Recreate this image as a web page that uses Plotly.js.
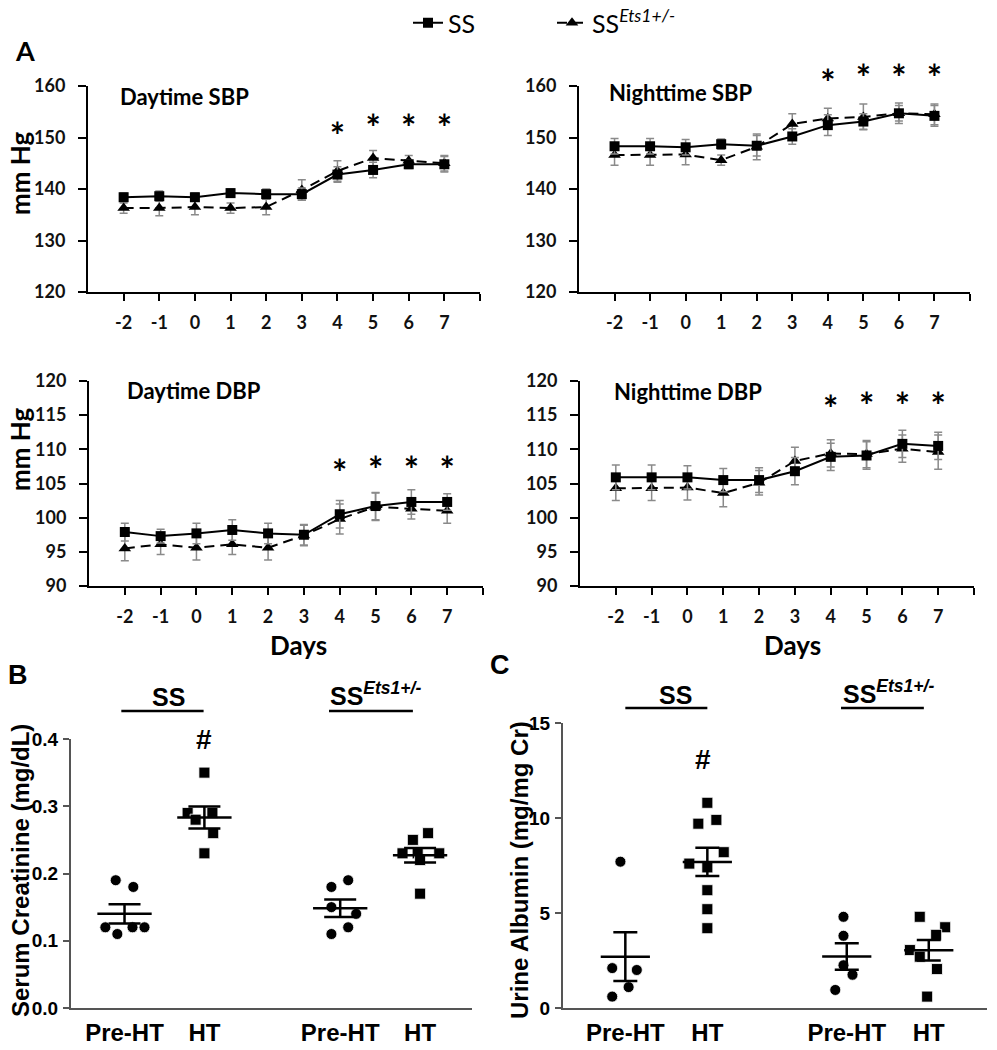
<!DOCTYPE html>
<html>
<head>
<meta charset="utf-8">
<script src="https://cdn.plot.ly/plotly-3.0.1.min.js"></script>
<style>body{margin:0;background:#fff}</style>
</head>
<body>
<div id="chart" style="width:997px;height:1050px"></div>
<script>
// ===== Panel A: blood pressure by day (mean +/- SEM) =====
var days = [-2, -1, 0, 1, 2, 3, 4, 5, 6, 7];
var dayLabels = ['-2', '-1', '0', '1', '2', '3', '4', '5', '6', '7'];
var starDays = [4, 5, 6, 7];

var daySbpSS = [138.4, 138.6, 138.4, 139.2, 139.0, 139.0, 142.8, 143.7, 144.8, 144.8];
var daySbpSSErr = [0.8, 1.0, 0.8, 0.8, 1.0, 1.2, 1.5, 1.5, 0.8, 1.5];
var daySbpEts = [136.3, 136.3, 136.5, 136.3, 136.5, 139.8, 143.5, 146.0, 145.5, 145.0];
var daySbpEtsErr = [1.0, 1.5, 1.5, 1.0, 1.5, 2.0, 2.0, 1.5, 1.0, 1.5];
var daySbpStars = [149.5, 151.1, 151.1, 151.1];

var nightSbpSS = [148.3, 148.3, 148.1, 148.7, 148.4, 150.2, 152.4, 153.1, 154.7, 154.2];
var nightSbpSSErr = [1.5, 1.5, 1.5, 1.0, 2.0, 1.5, 2.0, 1.5, 1.5, 2.0];
var nightSbpEts = [146.6, 146.6, 146.7, 145.6, 148.2, 152.6, 153.7, 154.0, 154.7, 154.5];
var nightSbpEtsErr = [2.0, 2.0, 2.0, 1.0, 2.5, 2.0, 2.0, 2.5, 2.0, 2.0];
var nightSbpStars = [159.8, 160.8, 160.8, 160.8];

var dayDbpSS = [97.9, 97.3, 97.7, 98.2, 97.7, 97.5, 100.5, 101.7, 102.3, 102.3];
var dayDbpSSErr = [1.3, 1.0, 1.5, 1.5, 1.5, 1.5, 2.0, 2.0, 1.8, 1.2];
var dayDbpEts = [95.5, 96.1, 95.6, 96.1, 95.6, 97.4, 99.8, 101.6, 101.3, 101.0];
var dayDbpEtsErr = [1.8, 1.5, 1.8, 1.5, 1.8, 1.5, 2.2, 2.0, 1.5, 1.8];
var dayDbpStars = [105.9, 106.4, 106.4, 106.4];

var nightDbpSS = [105.9, 105.9, 105.9, 105.5, 105.5, 106.8, 108.9, 109.1, 110.8, 110.5];
var nightDbpSSErr = [1.8, 1.8, 1.7, 1.7, 1.8, 2.0, 2.0, 2.0, 2.0, 2.0];
var nightDbpEts = [104.3, 104.3, 104.4, 103.6, 105.1, 108.3, 109.4, 109.3, 110.1, 109.6];
var nightDbpEtsErr = [1.8, 1.8, 1.8, 2.0, 1.8, 2.0, 2.0, 2.0, 2.0, 2.5];
var nightDbpStars = [115.3, 115.7, 115.7, 115.7];

// ===== Panels B & C: individual animals =====
var groupX = [1, 2, 3.7, 4.7];   // SS Pre-HT, SS HT, Ets Pre-HT, Ets HT
var groupLabels = ['Pre-HT', 'HT', 'Pre-HT', 'HT'];

var creatSSPre = [0.19, 0.18, 0.12, 0.11, 0.12, 0.12];
var creatSSPreJit = [-0.11, 0.11, -0.24, -0.09, 0.1, 0.25];
var creatSSHT = [0.35, 0.29, 0.29, 0.28, 0.26, 0.23];
var creatSSHTJit = [0, -0.21, 0.1, -0.11, 0.11, 0];
var creatEtsPre = [0.18, 0.19, 0.15, 0.14, 0.11, 0.12];
var creatEtsPreJit = [-0.11, 0.1, -0.11, 0.2, -0.11, 0.1];
var creatEtsHT = [0.25, 0.26, 0.23, 0.23, 0.23, 0.22, 0.17];
var creatEtsHTJit = [-0.09, 0.1, -0.22, -0.03, 0.24, 0, 0];

var albSSPre = [7.7, 2.1, 2.0, 1.1, 0.6];
var albSSPreJit = [-0.06, -0.16, 0.14, 0.04, -0.16];
var albSSHT = [10.8, 9.7, 9.9, 8.2, 7.6, 7.4, 6.2, 5.2, 4.2];
var albSSHTJit = [0, -0.11, 0.11, 0.2, -0.22, 0, 0, 0, 0];
var albEtsPre = [4.8, 3.8, 2.25, 1.75, 0.95];
var albEtsPreJit = [-0.04, -0.04, -0.04, 0.07, -0.14];
var albEtsHT = [4.8, 4.25, 3.85, 3.05, 2.7, 2.05, 0.6];
var albEtsHTJit = [-0.11, 0.2, 0.09, -0.23, -0.11, 0.1, -0.02];

var etsName = 'SS<sup><i>Ets1+/-</i></sup>';
var fontA = 'Lato, "Open Sans", sans-serif';
var fontB = '"Liberation Sans", Arial, sans-serif';

var data = [];

function bpPanel(n, ss, ssErr, ets, etsErr, stars, starAxis, legend) {
  var xa = 'x' + (n === 1 ? '' : n), ya = 'y' + (n === 1 ? '' : n);
  data.push({
    x: days, y: ets, xaxis: xa, yaxis: ya, name: etsName, showlegend: legend,
    mode: 'lines+markers',
    line: {color: '#000', width: 2, dash: '10px,6px'},
    marker: {symbol: 'triangle-up', size: 11, color: '#000'},
    error_y: {type: 'data', array: etsErr, color: '#8a8a8a', thickness: 1.5, width: 4}
  });
  data.push({
    x: days, y: ss, xaxis: xa, yaxis: ya, name: 'SS', showlegend: legend,
    mode: 'lines+markers',
    line: {color: '#000', width: 2},
    marker: {symbol: 'square', size: 10, color: '#000'},
    error_y: {type: 'data', array: ssErr, color: '#8a8a8a', thickness: 1.5, width: 4}
  });
  data.push({
    x: starDays, y: stars, xaxis: xa, yaxis: starAxis || ya, showlegend: false,
    mode: 'text', text: starDays.map(function () { return '*'; }),
    textfont: {family: fontA, size: 36, color: '#000', weight: 'bold'}, hoverinfo: 'skip'
  });
}

bpPanel(1, daySbpSS, daySbpSSErr, daySbpEts, daySbpEtsErr, daySbpStars, null, true);
bpPanel(2, nightSbpSS, nightSbpSSErr, nightSbpEts, nightSbpEtsErr, nightSbpStars, 'y7', false);
bpPanel(3, dayDbpSS, dayDbpSSErr, dayDbpEts, dayDbpEtsErr, dayDbpStars, null, false);
bpPanel(4, nightDbpSS, nightDbpSSErr, nightDbpEts, nightDbpEtsErr, nightDbpStars, null, false);

function mean(a) { return a.reduce(function (s, v) { return s + v; }, 0) / a.length; }
function sem(a) {
  var m = mean(a);
  var ss = a.reduce(function (s, v) { return s + (v - m) * (v - m); }, 0);
  return Math.sqrt(ss / (a.length - 1)) / Math.sqrt(a.length);
}

function dotGroup(n, gi, vals, jit, symbol, halfW, capW) {
  var xa = 'x' + n, ya = 'y' + n, c = groupX[gi];
  var m = mean(vals), e = sem(vals);
  data.push({
    x: jit.map(function (j) { return c + j; }), y: vals, xaxis: xa, yaxis: ya,
    mode: 'markers', showlegend: false,
    marker: {symbol: symbol, size: 11, color: '#000', line: {color: '#fff', width: 0.8}}
  });
  data.push({
    x: [c - halfW, c + halfW], y: [m, m], xaxis: xa, yaxis: ya,
    mode: 'lines', showlegend: false, line: {color: '#000', width: 2.5}
  });
  data.push({
    x: [c], y: [m], xaxis: xa, yaxis: ya, mode: 'markers', showlegend: false,
    marker: {size: 1, color: 'rgba(0,0,0,0)'},
    error_y: {type: 'data', array: [e], color: '#000', thickness: 2.5, width: capW}
  });
}

dotGroup(5, 0, creatSSPre, creatSSPreJit, 'circle', 0.34, 16);
dotGroup(5, 1, creatSSHT, creatSSHTJit, 'square', 0.34, 16);
dotGroup(5, 2, creatEtsPre, creatEtsPreJit, 'circle', 0.34, 16);
dotGroup(5, 3, creatEtsHT, creatEtsHTJit, 'square', 0.34, 16);

dotGroup(6, 0, albSSPre, albSSPreJit, 'circle', 0.3, 12);
dotGroup(6, 1, albSSHT, albSSHTJit, 'square', 0.3, 12);
dotGroup(6, 2, albEtsPre, albEtsPreJit, 'circle', 0.3, 12);
dotGroup(6, 3, albEtsHT, albEtsHTJit, 'square', 0.3, 12);

// ===== Layout =====
var W = 997, H = 1050;
function fx(p) { return p / W; }
function fy(p) { return 1 - p / H; }

var tickFontA = {family: fontA, size: 18, color: '#111', weight: 'bold'};

function dayAxis(x0, x1, anchor) {
  return {
    domain: [fx(x0), fx(x1)], anchor: anchor, range: [-3, 8],
    tickvals: days, ticktext: dayLabels,
    ticks: 'outside', ticklen: 7, tickwidth: 2, tickcolor: '#000',
    // unlabelled tick at the right end of the axis
    minor: {ticks: 'outside', tickvals: [8], ticklen: 7, tickwidth: 2, tickcolor: '#000', showgrid: false},
    showline: true, linecolor: '#000', linewidth: 2, showgrid: false, zeroline: false,
    tickfont: tickFontA, ticklabelstandoff: 6
  };
}
function bpAxis(y0, y1, anchor, r, dt) {
  return {
    domain: [fy(y1), fy(y0)], anchor: anchor, range: r, dtick: dt,
    ticks: 'outside', ticklen: 8, tickwidth: 2, tickcolor: '#000',
    showline: true, linecolor: '#000', linewidth: 2, showgrid: false, zeroline: false,
    tickfont: tickFontA, ticklabelstandoff: 9
  };
}
function grpAxis(x0, x1, anchor, r) {
  return {
    domain: [fx(x0), fx(x1)], anchor: anchor, range: r,
    tickvals: groupX, ticktext: groupLabels, ticks: '',
    showline: true, linecolor: '#555', linewidth: 2, showgrid: false, zeroline: false,
    tickfont: {family: fontB, size: 24, color: '#000', weight: 'bold'}, ticklabelstandoff: 2
  };
}
function valAxis(y0, y1, anchor, r, dt, fmt) {
  return {
    domain: [fy(y1), fy(y0)], anchor: anchor, range: r, dtick: dt, tickformat: fmt,
    ticks: 'outside', ticklen: 6, tickwidth: 2, tickcolor: '#555',
    showline: true, linecolor: '#555', linewidth: 2, showgrid: false, zeroline: false,
    tickfont: {family: fontB, size: 19, color: '#000', weight: 'bold'}, ticklabelstandoff: 1
  };
}

function note(text, x, y, size, opts) {
  var a = {
    text: text, x: fx(x), y: fy(y), xref: 'paper', yref: 'paper', showarrow: false,
    font: {family: fontA, size: size, color: '#000'}, xanchor: 'center', yanchor: 'middle'
  };
  for (var k in opts) a[k] = opts[k];
  return a;
}
function boldA(size) { return {family: fontA, size: size, color: '#000', weight: 'bold'}; }
function boldB(size) { return {family: fontB, size: size, color: '#000', weight: 'bold'}; }

var annotations = [
  note('A', 25, 50, 27, {font: boldA(27)}),
  note('Daytime SBP', 118, 97, 22, {xanchor: 'left', font: boldA(22)}),
  note('Nighttime SBP', 607, 93, 22, {xanchor: 'left', font: boldA(22)}),
  note('Daytime DBP', 125, 390, 22, {xanchor: 'left', font: boldA(22)}),
  note('Nighttime DBP', 612, 391, 22, {xanchor: 'left', font: boldA(22)}),
  note('mm Hg', 20, 174, 26, {textangle: -90, font: boldA(26)}),
  note('mm Hg', 20, 450, 26, {textangle: -90, font: boldA(26)}),
  note('Days', 298, 645, 26, {font: boldA(26)}),
  note('Days', 792, 645, 26, {font: boldA(26)}),
  note('B', 18, 675, 27, {font: boldB(27)}),
  note('C', 500, 665, 27, {font: boldB(27)}),
  note('Serum Creatinine (mg/dL)', 20, 871, 24, {textangle: -90, font: boldB(24)}),
  note('Urine Albumin (mg/mg Cr)', 519, 870, 24, {textangle: -90, font: boldB(24)}),
  // group headers
  {text: 'SS', xref: 'x5', yref: 'paper', x: 1.55, y: fy(697), showarrow: false, font: boldB(25)},
  {text: etsName, xref: 'x5', yref: 'paper', x: 3.55, y: fy(694), xanchor: 'left', showarrow: false, font: boldB(25)},
  {text: 'SS', xref: 'x6', yref: 'paper', x: 1.61, y: fy(695), showarrow: false, font: boldB(25)},
  {text: etsName, xref: 'x6', yref: 'paper', x: 3.63, y: fy(692), xanchor: 'left', showarrow: false, font: boldB(25)},
  {text: '#', xref: 'x5', yref: 'y5', x: groupX[1], y: 0.399, showarrow: false, font: boldB(28)},
  {text: '#', xref: 'x6', yref: 'y6', x: groupX[1] - 0.05, y: 13.1, showarrow: false, font: boldB(28)}
];

function bar(xref, a, b, y) {
  return {type: 'line', xref: xref, yref: 'paper', x0: a, x1: b, y0: fy(y), y1: fy(y),
          line: {color: '#000', width: 2.5}};
}
var shapes = [
  bar('x5', groupX[0] - 0.04, groupX[1] - 0.01, 711),
  bar('x5', groupX[2] - 0.14, groupX[3] - 0.09, 711),
  bar('x6', groupX[0], groupX[1], 708),
  bar('x6', groupX[2] - 0.07, groupX[3] - 0.06, 708)
];

var layout = {
  width: W, height: H, margin: {l: 0, r: 0, t: 0, b: 0},
  paper_bgcolor: '#fff', plot_bgcolor: 'rgba(0,0,0,0)',
  showlegend: true,
  legend: {orientation: 'h', x: fx(408), y: fy(0), xanchor: 'left', yanchor: 'top',
           font: {family: fontA, size: 25, color: '#000'}, entrywidth: 99, traceorder: 'reversed'},
  xaxis: dayAxis(88, 480, 'y'),
  yaxis: bpAxis(86, 292, 'x', [120, 160], 10),
  xaxis2: dayAxis(579, 970, 'y2'),
  yaxis2: bpAxis(86, 292, 'x2', [120, 160], 10),
  xaxis3: dayAxis(89, 483, 'y3'),
  yaxis3: bpAxis(381, 586, 'x3', [90, 120], 5),
  xaxis4: dayAxis(580, 974, 'y4'),
  yaxis4: bpAxis(381, 586, 'x4', [90, 120], 5),
  xaxis5: grpAxis(71, 472, 'y5', [0.33, 5.35]),
  yaxis5: valAxis(739, 1008, 'x5', [0, 0.4], 0.1, '.1f'),
  xaxis6: grpAxis(563, 987, 'y6', [0.24, 5.41]),
  yaxis6: valAxis(723, 1008, 'x6', [0, 15], 5, ''),
  // invisible taller twin of yaxis2 (same scale) so the nighttime SBP stars above 160 are drawn
  yaxis7: {domain: [fy(292), fy(40)], anchor: 'x2', range: [120, 120 + (292 - 40) / (206 / 40)],
           visible: false, fixedrange: true},
  annotations: annotations,
  shapes: shapes
};

Plotly.newPlot('chart', data, layout, {staticPlot: true});
</script>
</body>
</html>
